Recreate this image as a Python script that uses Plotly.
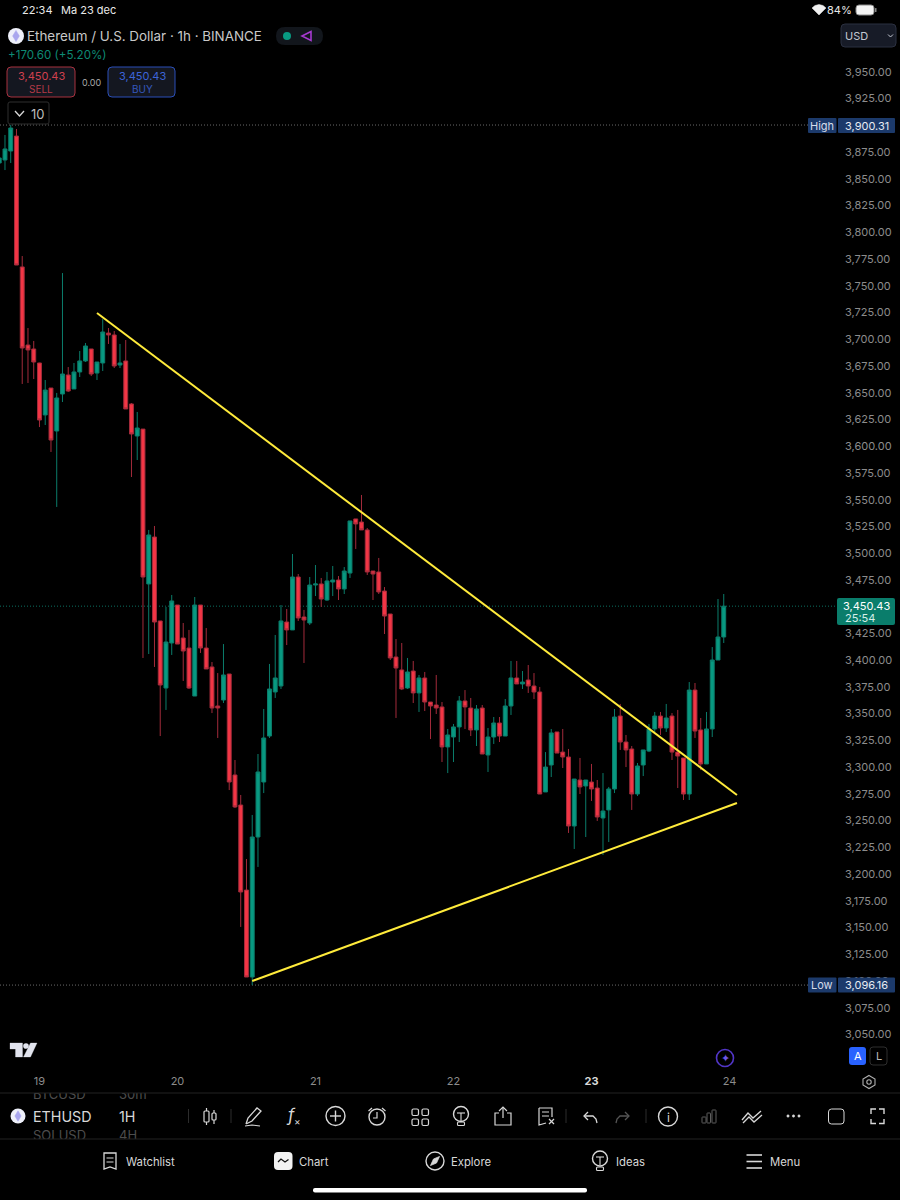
import pandas as pd
import plotly.graph_objects as go

# hourly ETHUSD candles, first one is 18 Dec 17:00
START = "2024-12-18 17:00"
OPENS = [
    3864.8, 3867.6, 3876.0, 3890.0, 3767.6, 3694.6, 3690.9, 3677.8, 3629.2, 3654.4,
    3614.2, 3648.8, 3666.6, 3653.5, 3669.4, 3679.7, 3690.9, 3668.4, 3677.8, 3705.8,
    3704.0, 3675.9, 3679.7, 3639.5, 3609.5, 3616.0, 3471.2, 3515.1, 3436.6, 3373.9,
    3416.0, 3451.5, 3420.7, 3411.3, 3366.4, 3451.5, 3411.3, 3393.6, 3357.1, 3362.7,
    3387.0, 3292.6, 3264.5, 3185.0, 3103.7, 3234.6, 3286.0, 3329.0, 3370.2, 3375.8,
    3435.6, 3428.2, 3477.7, 3440.3, 3434.7, 3470.2, 3471.2, 3456.2, 3473.0, 3474.9,
    3466.5, 3481.4, 3532.0, 3529.1, 3521.7, 3483.3, 3482.4, 3464.6, 3443.1, 3402.9,
    3390.8, 3373.9, 3389.8, 3369.3, 3383.3, 3360.8, 3358.0, 3356.2, 3318.8, 3328.1,
    3337.5, 3361.8, 3355.2, 3334.7, 3355.2, 3311.3, 3328.1, 3341.2, 3329.0, 3357.1,
    3383.3, 3377.7, 3381.4, 3375.8, 3370.2, 3276.7, 3301.9, 3332.8, 3314.0, 3309.4,
    3244.9, 3287.9, 3282.3, 3286.0, 3280.4, 3252.4, 3259.9, 3279.5, 3347.7, 3323.4,
    3316.9, 3274.8, 3301.9, 3315.0, 3335.6, 3347.7, 3336.5, 3347.7, 3314.0, 3308.5,
    3274.8, 3372.0, 3334.7, 3302.9, 3335.6, 3400.1, 3421.6,
]
HIGHS = [
    3874.0, 3891.0, 3900.31, 3896.6, 3777.8, 3710.5, 3698.4, 3678.0, 3661.9, 3654.4,
    3649.8, 3761.9, 3674.0, 3677.8, 3689.0, 3696.5, 3690.9, 3678.7, 3718.9, 3710.5,
    3707.7, 3695.6, 3699.3, 3640.4, 3632.0, 3616.1, 3521.7, 3525.4, 3436.6, 3449.7,
    3460.9, 3451.5, 3434.7, 3428.2, 3459.0, 3451.5, 3430.0, 3398.2, 3387.9, 3415.0,
    3387.0, 3306.6, 3273.9, 3214.0, 3255.2, 3312.2, 3354.3, 3396.4, 3423.5, 3451.5,
    3447.8, 3499.2, 3480.5, 3446.9, 3477.7, 3488.9, 3476.8, 3482.4, 3488.0, 3478.6,
    3487.0, 3530.1, 3532.0, 3554.4, 3523.5, 3483.3, 3495.5, 3468.3, 3443.1, 3419.7,
    3416.0, 3402.0, 3399.2, 3386.1, 3388.9, 3360.8, 3386.1, 3360.8, 3335.6, 3340.3,
    3366.4, 3372.0, 3364.6, 3358.0, 3358.0, 3336.5, 3346.8, 3346.8, 3363.6, 3399.2,
    3399.2, 3389.8, 3395.4, 3387.9, 3374.9, 3314.0, 3335.6, 3332.8, 3335.6, 3316.9,
    3288.8, 3308.5, 3287.9, 3302.9, 3287.9, 3294.4, 3281.4, 3354.3, 3359.0, 3330.0,
    3319.7, 3303.8, 3316.0, 3340.3, 3351.5, 3351.5, 3359.0, 3350.5, 3353.4, 3308.5,
    3379.5, 3378.6, 3345.9, 3351.5, 3412.2, 3457.1, 3461.8,
]
LOWS = [
    3858.0, 3858.2, 3864.8, 3769.4, 3658.2, 3659.1, 3662.8, 3617.9, 3619.8, 3594.6,
    3543.2, 3641.3, 3650.7, 3653.5, 3664.7, 3678.7, 3665.6, 3661.9, 3670.3, 3695.6,
    3673.1, 3673.1, 3634.8, 3571.2, 3587.1, 3402.0, 3405.7, 3393.6, 3329.0, 3353.4,
    3404.8, 3415.0, 3380.5, 3373.0, 3366.4, 3406.7, 3391.7, 3350.5, 3327.2, 3359.9,
    3278.5, 3261.7, 3150.5, 3103.7, 3096.16, 3206.6, 3275.7, 3327.2, 3364.6, 3373.0,
    3414.1, 3428.2, 3436.6, 3397.3, 3432.8, 3459.9, 3449.7, 3455.3, 3459.9, 3456.2,
    3461.8, 3476.8, 3503.9, 3521.7, 3479.6, 3456.2, 3461.8, 3424.4, 3400.1, 3345.9,
    3372.0, 3373.0, 3359.9, 3351.5, 3352.4, 3326.2, 3349.6, 3304.7, 3294.4, 3304.7,
    3323.4, 3335.6, 3329.0, 3319.7, 3312.2, 3295.4, 3321.6, 3323.4, 3329.0, 3348.7,
    3377.7, 3373.0, 3369.3, 3363.6, 3274.8, 3276.7, 3290.7, 3313.1, 3299.1, 3238.4,
    3223.4, 3274.8, 3234.6, 3268.3, 3249.6, 3217.8, 3229.9, 3275.7, 3316.0, 3300.0,
    3259.9, 3272.9, 3291.6, 3314.0, 3332.8, 3330.0, 3332.8, 3306.6, 3280.4, 3269.2,
    3269.2, 3327.2, 3297.2, 3302.9, 3328.1, 3400.1, 3416.0,
]
CLOSES = [
    3869.5, 3877.9, 3897.5, 3769.4, 3691.8, 3690.0, 3678.7, 3624.5, 3652.5, 3605.8,
    3645.1, 3667.5, 3651.6, 3669.4, 3679.7, 3693.7, 3667.5, 3678.7, 3706.8, 3704.0,
    3675.0, 3677.8, 3634.8, 3611.4, 3617.0, 3477.7, 3517.0, 3435.6, 3376.7, 3416.9,
    3455.3, 3415.0, 3408.5, 3373.9, 3451.5, 3411.3, 3391.7, 3355.2, 3355.2, 3386.1,
    3286.0, 3262.7, 3183.2, 3103.7, 3234.6, 3295.4, 3327.2, 3373.0, 3383.3, 3436.6,
    3428.2, 3477.7, 3439.4, 3437.5, 3470.2, 3471.2, 3457.1, 3474.0, 3474.9, 3466.5,
    3483.3, 3530.1, 3527.3, 3521.7, 3482.4, 3480.5, 3463.7, 3441.2, 3402.0, 3392.6,
    3373.0, 3388.9, 3369.3, 3383.3, 3360.8, 3357.1, 3355.2, 3318.8, 3330.0, 3337.5,
    3361.8, 3356.2, 3334.7, 3354.3, 3312.2, 3328.1, 3341.2, 3329.0, 3357.1, 3383.3,
    3377.7, 3379.5, 3375.8, 3370.2, 3274.8, 3300.0, 3331.9, 3313.1, 3309.4, 3244.9,
    3288.8, 3281.4, 3287.9, 3279.5, 3253.3, 3258.9, 3279.5, 3346.8, 3323.4, 3316.0,
    3274.8, 3301.0, 3316.0, 3335.6, 3347.7, 3336.5, 3345.9, 3314.0, 3310.3, 3274.8,
    3372.0, 3333.7, 3302.9, 3335.6, 3400.1, 3421.6, 3450.43,
]

# drawn trendlines
UPPER_X = ["2024-12-19 10:00", "2024-12-24 01:18"]
UPPER_Y = [3724.5, 3273.9]
LOWER_X = ["2024-12-20 13:00", "2024-12-24 01:18"]
LOWER_Y = [3100.0, 3266.4]

HIGH_PRICE = 3900.31
LOW_PRICE = 3096.16
LAST_PRICE = 3450.43

# 3,900 and 3,450 sit fully behind the High and last price labels
Y_TICKS = [p for p in range(3050, 3951, 25) if p not in (3900, 3450)]
DAY_TICKS = ["2024-12-19", "2024-12-20", "2024-12-21", "2024-12-22", "2024-12-23", "2024-12-24"]
DAY_LABELS = ["19", "20", "21", "22", "<b><span style='color:#d8d8d8'>23</span></b>", "24"]

FONT = "Inter"
GREEN = "#089981"
RED = "#f23645"
GREY = "#8c8c8c"

times = pd.date_range(START, periods=len(OPENS), freq="h")

annotations = []
shapes = []


def px(x):
    return x / 900


def py(y):
    return 1 - y / 1200


def label(text, x, y, size=12, color="#d8d8d8", anchor="left"):
    annotations.append(dict(
        text=text, x=px(x), y=py(y), xref="paper", yref="paper",
        xanchor=anchor, yanchor="middle", showarrow=False,
        borderpad=0, borderwidth=0,
        font=dict(family=FONT, size=size, color=color),
    ))


def box(x0, y0, x1, y1, line=None, fill=None, r=3, width=1):
    k = r
    path = (
        f"M{px(x0 + k)},{py(y0)} L{px(x1 - k)},{py(y0)} Q{px(x1)},{py(y0)} {px(x1)},{py(y0 + k)} "
        f"L{px(x1)},{py(y1 - k)} Q{px(x1)},{py(y1)} {px(x1 - k)},{py(y1)} "
        f"L{px(x0 + k)},{py(y1)} Q{px(x0)},{py(y1)} {px(x0)},{py(y1 - k)} "
        f"L{px(x0)},{py(y0 + k)} Q{px(x0)},{py(y0)} {px(x0 + k)},{py(y0)} Z"
    )
    shapes.append(dict(
        type="path", path=path, xref="paper", yref="paper", layer="above",
        line=dict(color=line or "rgba(0,0,0,0)", width=width),
        fillcolor=fill or "rgba(0,0,0,0)",
    ))


def poly(points, color="#d8d8d8", width=1.4, closed=False, fill=None):
    path = "M" + " L".join(f"{px(x)},{py(y)}" for x, y in points)
    if closed:
        path += " Z"
    shapes.append(dict(
        type="path", path=path, xref="paper", yref="paper", layer="above",
        line=dict(color=color, width=width),
        fillcolor=fill or "rgba(0,0,0,0)",
    ))


def circle(cx, cy, r, line="#d8d8d8", fill=None, width=1.4):
    shapes.append(dict(
        type="circle", xref="paper", yref="paper", layer="above",
        x0=px(cx - r), x1=px(cx + r), y0=py(cy + r), y1=py(cy - r),
        line=dict(color=line, width=width),
        fillcolor=fill or "rgba(0,0,0,0)",
    ))


def eth_logo(cx, cy, r):
    circle(cx, cy, r, line="#eef0fa", fill="#eef0fa", width=0)
    poly([(cx, cy - r * 0.7), (cx + r * 0.42, cy), (cx, cy + r * 0.7), (cx - r * 0.42, cy)],
         color="#a9a6ee", width=0.5, closed=True, fill="#a9a6ee")


# ------------------------- Chart ----------------------------
fig = go.Figure()

fig.add_trace(go.Candlestick(
    x=times, open=OPENS, high=HIGHS, low=LOWS, close=CLOSES,
    increasing=dict(fillcolor=GREEN, line=dict(color="#0b7d6b", width=1)),
    decreasing=dict(fillcolor=RED, line=dict(color="#a32b3b", width=1)),
    whiskerwidth=0, hoverinfo="skip", showlegend=False,
))
fig.add_trace(go.Scatter(x=UPPER_X, y=UPPER_Y, mode="lines", hoverinfo="skip", showlegend=False,
                         line=dict(color="#ffeb3b", width=2)))
fig.add_trace(go.Scatter(x=LOWER_X, y=LOWER_Y, mode="lines", hoverinfo="skip", showlegend=False,
                         line=dict(color="#ffeb3b", width=2)))

# ghost rows of the symbol picker, cut off by the toolbar edges
fig.add_trace(go.Scatter(
    x=[33, 119, 33, 119], y=[1096, 1096, 1137, 1137], text=["BTCUSD", "30m", "SOLUSD", "4H"],
    mode="text", textposition="middle right", cliponaxis=True,
    textfont=dict(family=FONT, size=13, color="#4d4d4d"),
    xaxis="x2", yaxis="y2", hoverinfo="skip", showlegend=False,
))

# price lines
for price, color in [(HIGH_PRICE, "#6a6a6a"), (LOW_PRICE, "#6a6a6a"), (LAST_PRICE, "#0b6f60")]:
    shapes.append(dict(type="line", xref="paper", yref="y", x0=0, x1=px(836), y0=price, y1=price,
                       layer="below", line=dict(color=color, width=1, dash="1px,2px")))

# ------------------------- Price labels ----------------------------
for y_c, name, price in [(125.5, "High", HIGH_PRICE), (985, "Low", LOW_PRICE)]:
    box(808, y_c - 7.5, 836.5, y_c + 7.5, fill="#1c3a6b", r=1)
    box(838, y_c - 7.5, 895, y_c + 7.5, fill="#1c3a6b", r=1)
    label(name, 822, y_c, size=11, color="#d6dcea", anchor="center")
    label(f"{price:,.2f}", 866.5, y_c, size=11, color="#e6eaf2", anchor="center")

box(837, 598, 895, 625, fill="#0a7d6b", r=2)
label(f"{LAST_PRICE:,.2f}", 866, 605.5, size=11, color="#ffffff", anchor="center")
label("25:54", 845, 618, size=11, color="#d6efe9")

# ------------------------- Status bar and header ----------------------------
label("22:34", 22, 10, size=11, color="#e8e8e8")
label("Ma 23 dec", 61, 10, size=11, color="#e8e8e8")
label("84%", 827, 10, size=11, color="#e8e8e8")
poly([(812, 8), (815, 5.5), (819, 4.5), (823, 5.5), (826, 8), (819, 15)],
     color="#f0f0f0", width=0.5, closed=True, fill="#f0f0f0")
box(856, 5, 874, 15, line="#8a8a8a", fill="#f4f4f4", r=3)
box(875, 8, 876.5, 12, fill="#8a8a8a", r=0.5)

eth_logo(16, 36, 8)
label("Ethereum / U.S. Dollar · 1h · BINANCE", 27, 36, size=13.4, color="#c9c9c9")
box(276, 27, 323, 45, fill="#12161c", r=9)
circle(287, 36, 4, line=GREEN, fill=GREEN, width=0)
poly([(311, 31.5), (302, 36), (311, 40.5)], color="#a63ad0", width=1.6, closed=True)
label("+170.60 (+5.20%)", 8, 55, size=11.6, color="#0d8a74")

box(7, 67, 75, 97, line="#a8323f", fill="#141720", r=4)
label("3,450.43", 41, 76.5, size=11, color="#d0404e", anchor="center")
label("SELL", 41, 89, size=10, color="#b43a47", anchor="center")
label("0.00", 91, 82, size=9, color="#a8a8a8", anchor="center")
box(108, 67, 175, 97, line="#2a4fb8", fill="#141720", r=4)
label("3,450.43", 142, 76.5, size=11, color="#3c64d8", anchor="center")
label("BUY", 142, 89, size=10, color="#3557bd", anchor="center")

box(8, 102, 49, 124, line="#2e2e2e", r=2)
poly([(15, 111), (19.5, 116), (24, 111)], color="#d8d8d8", width=1.3)
label("10", 38, 114, size=13, color="#bcbcbc", anchor="center")

box(841, 24, 896, 47, line="#2b3040", fill="#171b27", r=4)
label("USD", 845, 36, size=11, color="#c4c8d2")
poly([(888, 34.5), (890.5, 37), (893, 34.5)], color="#c4c8d2", width=1)

# ------------------------- Lower chart chrome ----------------------------
# TradingView mark
poly([(10, 1043), (22.5, 1043), (22.5, 1057), (15.5, 1057), (15.5, 1049), (10, 1049)],
     color="#e2e4ee", width=0.3, closed=True, fill="#e2e4ee")
circle(26, 1046, 2.8, line="#e2e4ee", fill="#e2e4ee", width=0)
poly([(30.5, 1043), (37, 1043), (30.5, 1057), (23.5, 1057)],
     color="#e2e4ee", width=0.3, closed=True, fill="#e2e4ee")

circle(725, 1058, 8.5, line="#5236c8", width=1.6)
label("✦", 725, 1058, size=11, color="#6d57e8", anchor="center")
box(849, 1047, 866, 1065, fill="#2962ff", r=3)
label("A", 857.5, 1056, size=11, color="#ffffff", anchor="center")
box(870, 1047, 887, 1065, line="#2e2e2e", r=3)
label("L", 878.5, 1056, size=11, color="#b8b8b8", anchor="center")
poly([(869, 1075.5), (875, 1079), (875, 1085), (869, 1088.5), (863, 1085), (863, 1079)], color="#b0b0b0", width=1.1, closed=True)
circle(869, 1082, 2.2, line="#b0b0b0", width=1.1)

for y_line in (1093, 1139):
    poly([(0, y_line), (900, y_line)], color="#222222", width=1)

# ------------------------- Toolbar ----------------------------
eth_logo(18, 1116, 7.5)
label("ETHUSD", 33, 1116.5, size=14.3, color="#d8d8d8")
label("1H", 119, 1116.5, size=14.3, color="#d8d8d8")
poly([(188.5, 1109), (188.5, 1123)], color="#2c2c2c", width=1)
poly([(231, 1109), (231, 1123)], color="#2c2c2c", width=1)

# candles icon
poly([(206.5, 1108), (206.5, 1125)], width=1.2)
box(204, 1111, 209, 1122, line="#d8d8d8", fill="#000000", r=1, width=1.2)
poly([(214, 1110), (214, 1124)], width=1.2)
box(212, 1113, 216, 1120, line="#d8d8d8", fill="#000000", r=1, width=1.2)
# pencil
poly([(246, 1124), (248, 1118), (257, 1108), (261, 1111), (252, 1121), (246, 1124)], width=1.3)
poly([(245, 1126), (252, 1125), (260, 1126)], width=1.1)
label("<i>f</i>", 291, 1115, size=17, color="#d8d8d8", anchor="center")
label("×", 297.5, 1121, size=10, color="#d8d8d8", anchor="center")
# plus in circle
circle(335.5, 1116, 9.5)
poly([(330, 1116), (341, 1116)])
poly([(335.5, 1110.5), (335.5, 1121.5)])
# alarm clock
circle(377, 1117, 8)
poly([(377, 1112), (377, 1118), (373, 1118)], width=1.2)
poly([(368.5, 1111), (372, 1108)], width=1.2)
poly([(382, 1108), (385.5, 1111)], width=1.2)
# layouts grid
for gx in (412, 422):
    for gy in (1109, 1119):
        box(gx, gy, gx + 6.5, gy + 6.5, line="#d8d8d8", r=1.5, width=1.2)
# bulb
circle(461, 1114, 7.5)
poly([(457, 1113), (465, 1113)], width=1.1)
poly([(461, 1113), (461, 1121)], width=1.1)
box(457.5, 1122, 464.5, 1125.5, line="#d8d8d8", r=1, width=1.1)
# share
poly([(499, 1113), (495, 1113), (495, 1125), (511, 1125), (511, 1113), (507, 1113)], width=1.2)
poly([(503, 1118), (503, 1108)], width=1.2)
poly([(499, 1111), (503, 1107), (507, 1111)], width=1.2)
# notes with x
poly([(539, 1108), (552, 1108), (552, 1117)], width=1.2)
poly([(539, 1108), (539, 1125), (546, 1123)], width=1.2)
poly([(542, 1112), (549, 1112)], width=1)
poly([(542, 1116), (549, 1116)], width=1)
poly([(549, 1119), (554, 1124)], width=1.2)
poly([(554, 1119), (549, 1124)], width=1.2)
poly([(566, 1109), (566, 1123)], color="#2c2c2c", width=1)
# undo and redo
poly([(588, 1112), (584, 1116), (588, 1120)], width=1.3)
poly([(584, 1116), (593, 1116), (596, 1119), (597, 1123)], width=1.3)
poly([(625, 1112), (629, 1116), (625, 1120)], color="#555555", width=1.3)
poly([(629, 1116), (620, 1116), (617, 1119), (616, 1123)], color="#555555", width=1.3)
poly([(646, 1109), (646, 1123)], color="#2c2c2c", width=1)
# info
circle(668, 1116.5, 9.5)
label("i", 668, 1117, size=12, color="#d8d8d8", anchor="center")
# grey bars
box(702, 1117, 706, 1123, line="#5e5e5e", r=0.5, width=1)
box(707, 1113, 710.5, 1123, line="#5e5e5e", r=0.5, width=1)
box(712, 1110, 716, 1123, line="#5e5e5e", r=0.5, width=1)
# wave
poly([(742, 1120), (748, 1113), (753, 1118), (761, 1111)], width=1.3)
poly([(743, 1123), (749, 1117), (754, 1122), (762, 1115)], width=1.3)
# dots
for dx in (788, 793.5, 799):
    circle(dx, 1116, 1.2, fill="#d8d8d8", width=0.5)
# single pane and fullscreen
box(828.5, 1109, 844, 1124, line="#d8d8d8", r=3)
poly([(871, 1114), (871, 1109), (876, 1109)])
poly([(879, 1109), (884, 1109), (884, 1114)])
poly([(871, 1119), (871, 1123.5), (876, 1123.5)])
poly([(879, 1123.5), (884, 1123.5), (884, 1119)])

# ------------------------- Bottom navigation ----------------------------
label("Watchlist", 126, 1162, size=11.3, color="#d8d8d8")
label("Chart", 299, 1162, size=11.3, color="#d8d8d8")
label("Explore", 451, 1161.5, size=11.3, color="#d8d8d8")
label("Ideas", 616, 1161.5, size=11.3, color="#d8d8d8")
label("Menu", 770, 1162, size=11.3, color="#d8d8d8")

poly([(104, 1153), (116, 1153), (116, 1169), (110, 1167), (104, 1169)], width=1.3, closed=True)
poly([(106.5, 1158), (113.5, 1158)], width=1)
poly([(106.5, 1162), (113.5, 1162)], width=1)
box(274, 1152, 292.5, 1170, fill="#f2f2f2", r=4)
poly([(278, 1162), (281, 1159), (285, 1162), (288.5, 1159.5)], color="#111111", width=1.3)
circle(435, 1161, 9)
poly([(439.5, 1156.5), (436.5, 1163), (430.5, 1165.5), (433.5, 1159)], width=0.8, closed=True, fill="#d8d8d8")
circle(600, 1158.5, 7.5)
poly([(596, 1157), (604, 1157)], width=1.1)
poly([(600, 1157), (600, 1165)], width=1.1)
box(596.5, 1167, 603.5, 1170.5, line="#d8d8d8", r=1, width=1.1)
for my in (1155, 1161.5, 1168):
    poly([(746.5, my), (762, my)], width=1.6)
box(313, 1188, 587, 1192.5, fill="#ffffff", r=2)

# ------------------------- Figure ----------------------------
fig.update_layout(
    width=900,
    height=1200,
    margin=dict(l=0, r=0, t=0, b=0),
    paper_bgcolor="#000000",
    plot_bgcolor="#000000",
    showlegend=False,
    hovermode=False,
    boxgap=0.32,
    boxgroupgap=0,
    annotations=annotations,
    shapes=shapes,
    xaxis=dict(
        type="date",
        domain=[0, px(835)],
        range=["2024-12-18 17:08", "2024-12-24 18:21"],
        rangeslider=dict(visible=False),
        tickmode="array",
        tickvals=DAY_TICKS,
        ticktext=DAY_LABELS,
        tickfont=dict(family=FONT, size=11, color=GREY),
        ticklabelstandoff=3,
        showgrid=False,
        zeroline=False,
        showline=False,
        ticks="",
    ),
    yaxis=dict(
        domain=[py(1070), py(50)],
        range=[3016.75, 3970.45],
        side="right",
        tickmode="array",
        tickvals=Y_TICKS,
        tickformat=",.2f",
        tickfont=dict(family=FONT, size=11, color=GREY),
        ticklabelstandoff=9,
        showgrid=False,
        zeroline=False,
        showline=False,
        ticks="",
    ),
    xaxis2=dict(domain=[0, 1], range=[0, 900], visible=False, anchor="y2"),
    yaxis2=dict(domain=[py(1139), py(1093)], range=[1139, 1093], visible=False, anchor="x2"),
)

fig.write_html(
    "out.html",
    config={"displayModeBar": False},
    post_script="document.body.style.margin='0';document.body.style.background='#000';",
)
